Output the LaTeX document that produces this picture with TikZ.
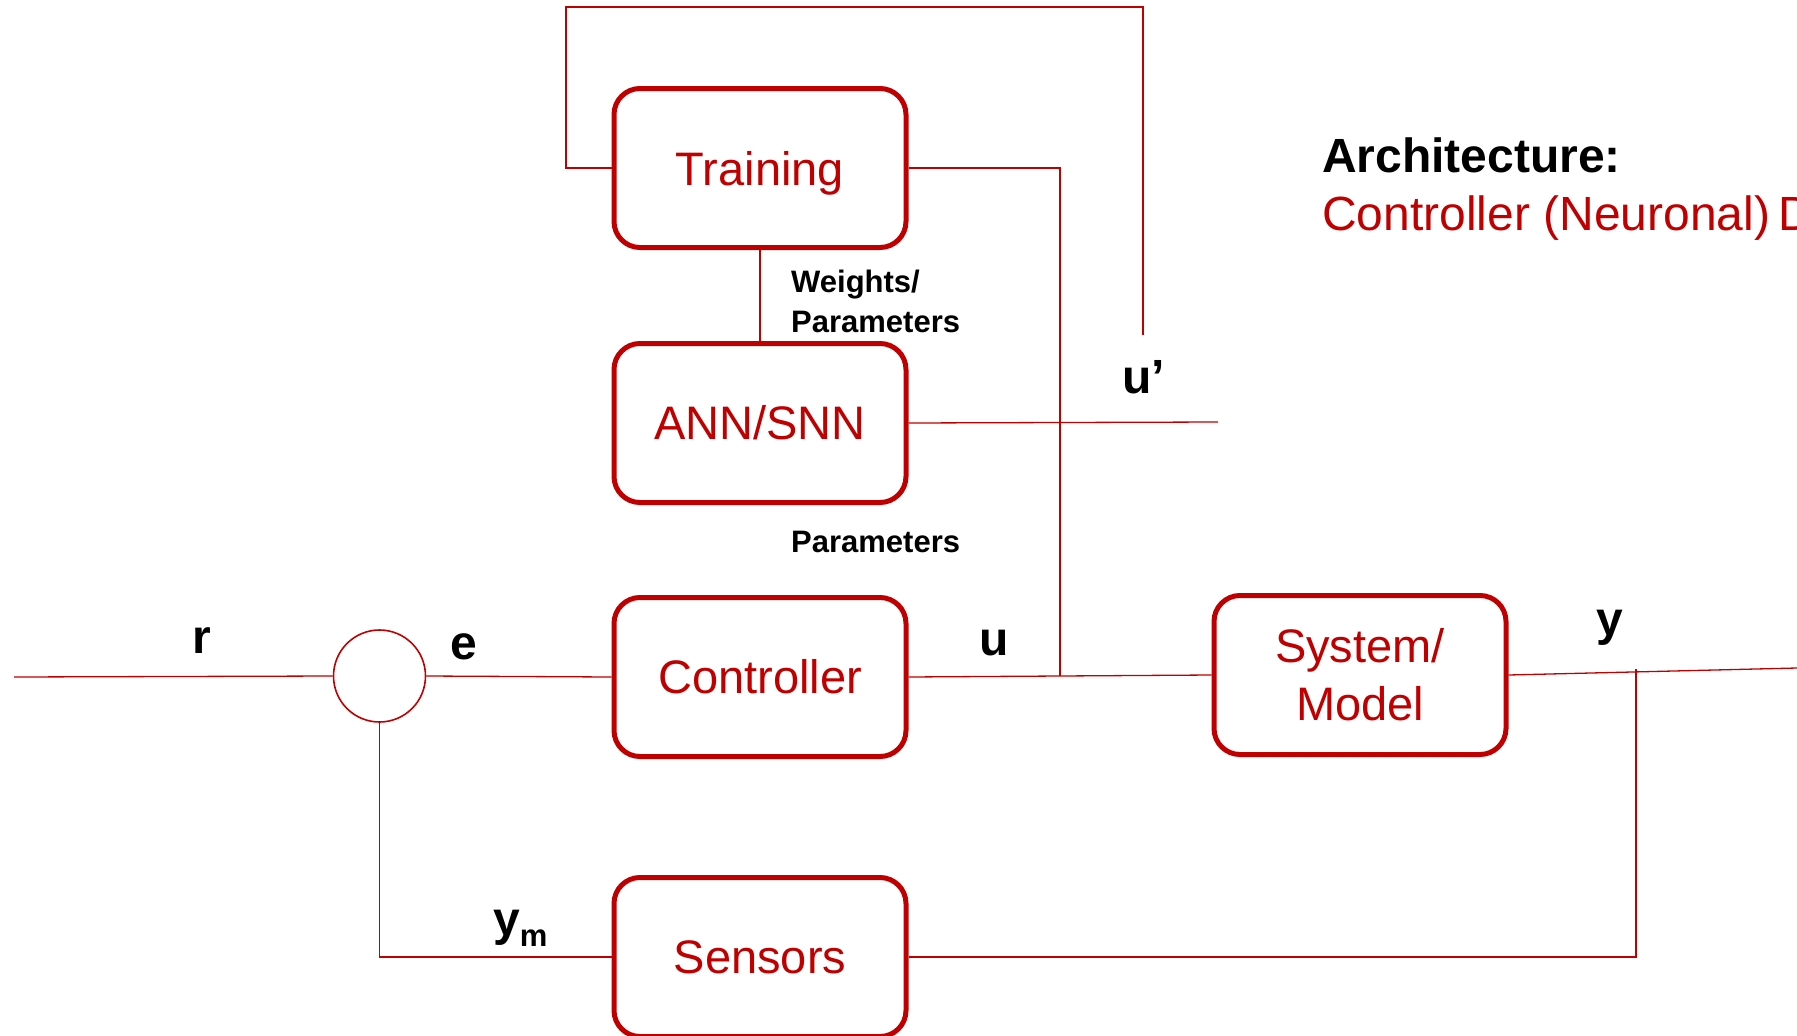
\documentclass[tikz,border=0pt]{standalone}
\usepackage{fontspec}
\setmainfont{Liberation Sans}
\definecolor{dred}{HTML}{C00000}
\begin{document}
\begin{tikzpicture}[x=1pt,y=-1pt,
  blk/.style={draw=dred, line width=5pt, rounded corners=26pt, minimum width=292pt,
    minimum height=159pt, text=dred, font=\fontsize{47}{58}\selectfont, align=center, inner sep=0pt},
  wire/.style={draw=dred, line width=1.3pt},
  lbl/.style={font=\bfseries\fontsize{48}{48}\selectfont, inner sep=0pt, anchor=base},
  small/.style={font=\bfseries\fontsize{31}{40}\selectfont, inner sep=0pt, align=left}]
\useasboundingbox (0,0) rectangle (1797,1036);
\begin{scope}
\clip (0,0) rectangle (1797,1036);
% blocks
\node[blk, text depth=0pt] (training) at (760,168) {Training};
\node[blk] (ann) at (760,423) {ANN/SNN};
\node[blk] (controller) at (760,677) {Controller};
\node[blk] (sensors) at (760,957) {Sensors};
\node[blk] (system) at (1360,675) {System/\\Model};
\node[draw=dred, line width=1.6pt, circle, minimum size=92pt, inner sep=0pt] (sum) at (379.5,676) {};
% free ends / junctions
\coordinate (fbL) at (566,7);
\coordinate (fbR) at (1143,7);
\coordinate (fbEnd) at (1143,335);
\coordinate (ujunc) at (1060,676);
\coordinate (upEnd) at (1218,422);
\coordinate (rin) at (14,677);
\coordinate (yout) at (1797,668);
\coordinate (yjunc) at (1636,669);
% connectors
\draw[wire] (training.west) -| (fbL) -- (fbR) -- (fbEnd);
\draw[wire] (training.east) -| (ujunc);
\draw[wire] (training.south) -- (ann.north);
\draw[wire] (ann.east) -- (upEnd);
\draw[wire] (rin) -- (sum.west);
\draw[wire] (sum.east) -- (controller.west);
\draw[wire] (controller.east) -- (system.west);
\draw[wire] (system.east) -- (yout);
\draw[wire] (yjunc) |- (sensors.east);
\draw[wire] (sensors.west) -| (sum.south);
% labels
\node[lbl] (lr) at (202,653) {r};
\node[lbl] (le) at (464,659) {e};
\node[lbl] (lu) at (994,655) {u};
\node[lbl, anchor=base west] (lup) at (1122,393) {u’};
\node[lbl] (ly) at (1610,635) {y};
\node[lbl, anchor=base west] (lym) at (493,935) {y\raisebox{-11pt}{\fontsize{31}{31}\selectfont m}};
\node[small, anchor=base west] (lw1) at (791,292) {Weights/};
\node[small, anchor=base west] (lw2) at (791,332) {Parameters};
\node[small, anchor=base west] (lp) at (791,552) {Parameters};
% title
\node[font=\bfseries\fontsize{48}{48}\selectfont, inner sep=0pt, anchor=base west] (title) at (1322,172) {Architecture:};
\node[font=\fontsize{48}{48}\selectfont, text=dred, inner sep=0pt, anchor=base west] (subtitle) at (1322,230) {Controller (Neuronal)\hspace{8pt}D};
\end{scope}
\end{tikzpicture}
\end{document}
